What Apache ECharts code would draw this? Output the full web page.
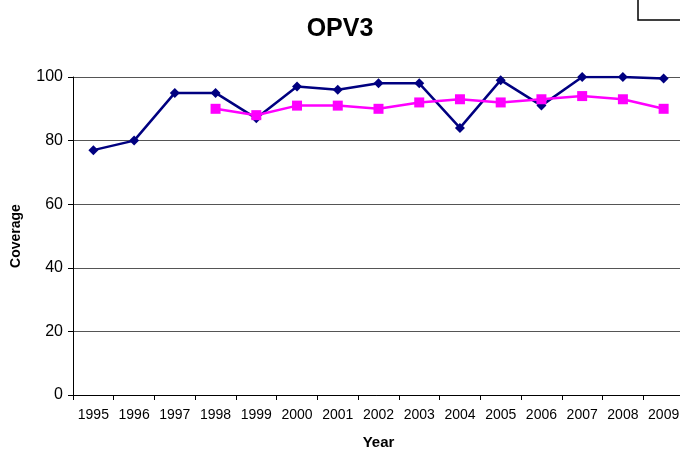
<!DOCTYPE html>
<html>
<head>
<meta charset="utf-8">
<script src="https://cdn.jsdelivr.net/npm/echarts@6/dist/echarts.min.js"></script>
<style>
  html, body { margin: 0; padding: 0; background: #fff; }
  #chart { width: 680px; height: 449px; }
</style>
</head>
<body>
<div id="chart"></div>
<script>
const years = ['1995', '1996', '1997', '1998', '1999', '2000', '2001', '2002',
    '2003', '2004', '2005', '2006', '2007', '2008', '2009']
const seriesA = [77, 80, 95, 95, 87, 97, 96, 98, 98, 84, 99, 91, 100, 100, 99.5]
const seriesB = [null, null, null, 90, 88, 91, 91, 90, 92, 93, 92, 93, 94, 93, 90]
const yTicks = [0, 20, 40, 60, 80, 100]

const chart = echarts.init(document.getElementById('chart'))
const font = 'Arial, "Liberation Sans", sans-serif'

const option = {
    animation: false,
    title: {
        text: 'OPV3',
        left: 'center',
        top: 12,
        textStyle: { fontFamily: font, fontSize: 25, fontWeight: 'bold', color: '#000' }
    },
    graphic: [{
        // clipped legend frame at the top right
        type: 'rect',
        shape: { x: 638, y: -5, width: 60, height: 25 },
        style: { fill: 'none', stroke: '#000', lineWidth: 1.5 }
    }],
    grid: { left: 73, top: 77, right: -4, bottom: 54, outerBoundsMode: 'none', containLabel: false },
    xAxis: {
        type: 'category',
        data: years,
        boundaryGap: true,
        name: 'Year',
        nameLocation: 'middle',
        nameGap: 40,
        nameTextStyle: { fontFamily: font, fontSize: 15, fontWeight: 'bold', color: '#000' },
        axisLine: { lineStyle: { color: '#000', width: 1 } },
        axisTick: { show: true, length: 5, lineStyle: { color: '#000' } },
        axisLabel: { fontFamily: font, fontSize: 14, color: '#000', margin: 13, interval: 0 }
    },
    yAxis: {
        type: 'value',
        min: 0,
        max: 100,
        interval: 20,
        name: 'Coverage',
        nameLocation: 'middle',
        nameGap: 50,
        nameTextStyle: { fontFamily: font, fontSize: 14, fontWeight: 'bold', color: '#000' },
        axisLine: { show: true, lineStyle: { color: '#000', width: 1 } },
        axisTick: { show: true, length: 5, lineStyle: { color: '#000' } },
        axisLabel: {
            fontFamily: font, fontSize: 16, color: '#000', margin: 10,
            formatter: v => yTicks.includes(v) ? String(v) : ''
        },
        splitLine: { lineStyle: { color: '#555', width: 1 } }
    },
    series: [
        {
            type: 'line',
            data: seriesA,
            symbol: 'diamond',
            symbolSize: 10,
            lineStyle: { color: '#000080', width: 2.5 },
            itemStyle: { color: '#000080' }
        },
        {
            type: 'line',
            data: seriesB,
            symbol: 'rect',
            symbolSize: 10,
            lineStyle: { color: '#ff00ff', width: 2.5 },
            itemStyle: { color: '#ff00ff' }
        }
    ]
}

chart.setOption(option)
</script>
</body>
</html>
